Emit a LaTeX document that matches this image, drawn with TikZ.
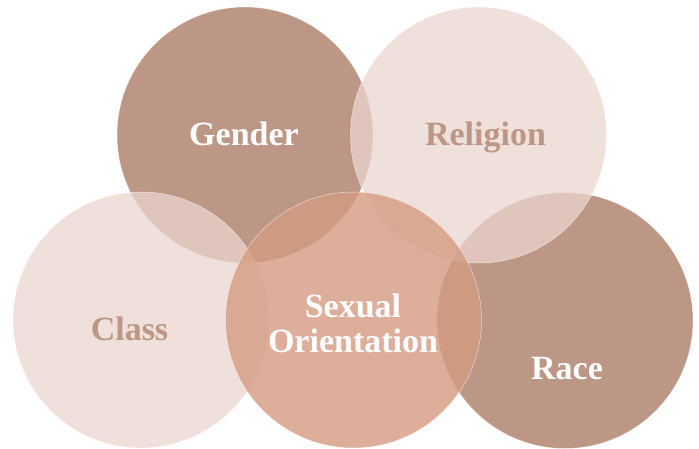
\documentclass[tikz,border=0pt]{standalone}
\usepackage{fontspec}
\setmainfont{Liberation Serif}
\definecolor{darkrose}{RGB}{189,151,133}
\definecolor{lightrose}{RGB}{235,213,207}
\definecolor{midrose}{RGB}{212,155,130}
\begin{document}
\begin{tikzpicture}[x=1pt,y=-1pt,
  bubble/.style={circle,minimum size=256pt,inner sep=0pt,draw=white,draw opacity=0.6,line width=0.5pt},
  darkbubble/.style={bubble,fill=darkrose},
  lightbubble/.style={bubble,fill=lightrose,fill opacity=0.75},
  midbubble/.style={bubble,fill=midrose,fill opacity=0.8},
  lbl/.style={font=\fontsize{34}{35}\selectfont\bfseries,anchor=base,inner sep=0pt,text opacity=1},
  lblwhite/.style={lbl,text=white},
  lbldark/.style={lbl,text=darkrose}]
\useasboundingbox (0,0) rectangle (699,448);
\node[darkbubble] (gender) at (245,135) {};
\node[darkbubble] (race) at (565,320.5) {};
\node[lightbubble] (religion) at (478.5,135) {};
\node[lightbubble] (class) at (141,320) {};
\node[midbubble] (sexual) at (353.5,320) {};
\node[lblwhite] (tgender) at (244,145) {Gender};
\node[lbldark] (treligion) at (485.5,145) {Religion};
\node[lbldark] (tclass) at (129.5,340) {Class};
\node[lblwhite] (tsexual) at (353,317) {Sexual};
\node[lblwhite] (torient) at (353,352) {Orientation};
\node[lblwhite] (trace) at (567,379) {Race};
\end{tikzpicture}
\end{document}
